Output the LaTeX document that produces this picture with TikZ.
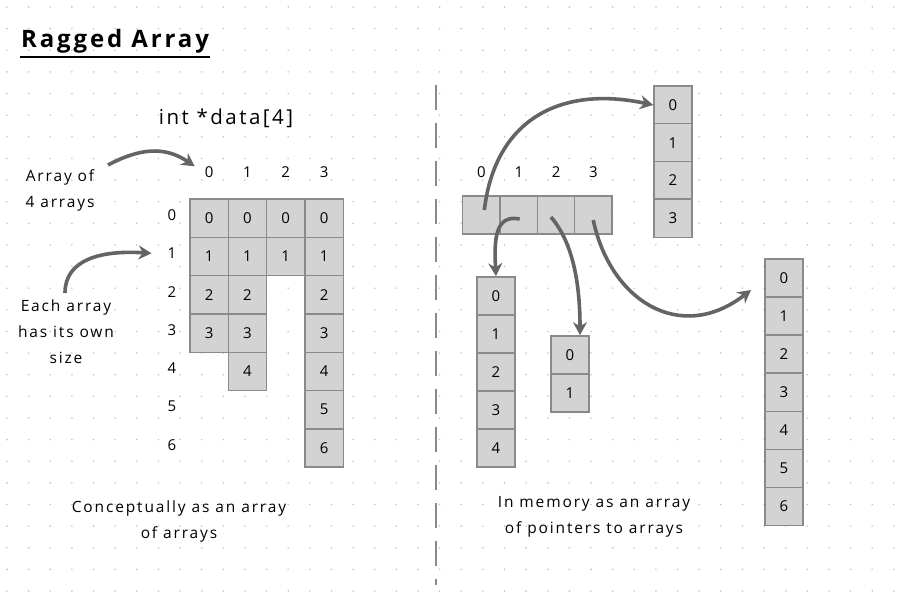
\documentclass[tikz,border=0pt]{standalone}
\usepackage{fontspec}
\setmainfont{Open Sans}[LetterSpace=12]
\usetikzlibrary{arrows.meta,calc}
\definecolor{cellfill}{HTML}{D3D3D3}
\definecolor{cellline}{HTML}{8A8A8A}
\definecolor{arrowgray}{HTML}{646464}
\definecolor{dotgray}{HTML}{C4C4C4}
\tikzset{
  cell/.style={draw=cellline, fill=cellfill, line width=1.4pt, minimum width=38.3pt, minimum height=38.3pt, inner sep=0pt, font=\fontsize{15}{17}\selectfont},
  pcell/.style={cell, minimum width=37.3pt},
  idx/.style={font=\fontsize{15}{17}\selectfont, inner sep=0pt},
  note/.style={font=\fontsize{15.5}{26}\selectfont, align=center, inner sep=0pt},
  ptr/.style={draw=arrowgray, line width=3.6pt, -{Stealth[length=13pt,width=14pt]}}
}
\begin{document}
\begin{tikzpicture}[x=1pt, y=-1pt]
\useasboundingbox (0,0) rectangle (898,597);
% dot grid
\foreach \i in {0,...,41}
  \foreach \j in {0,...,27}
    \fill [dotgray] (7+21.63*\i, 7+21.63*\j) circle (0.9);
% title
\node [font=\fontsize{24}{28}\selectfont\bfseries, inner sep=0pt] (title) at (115, 41) {Ragged Array};
\draw [line width=1.8pt] (20, 57) -- (210, 57);
% divider
\draw [cellline, line width=1.8pt, dash pattern=on 25pt off 13pt] (436, 85) -- (436, 585);
% left: conceptual view
\node [font=\fontsize{20.5}{22}\selectfont, inner sep=0pt] (decl) at (226, 118) {int *data[4]};
\foreach \c in {0,...,3}
  \node [idx] (col\c) at (209.15+38.3*\c, 172) {\c};
\foreach \r in {0,...,6}
  \node [idx] (row\r) at (172, 215+38.3*\r) {\r};
\foreach \c/\last in {0/3, 1/4, 2/1, 3/6}
  \foreach \r in {0,...,\last}
    \node [cell] (a\c\r) at (209.15+38.3*\c, 218.15+38.3*\r) {\r};
\node [note] (arrnote) at (60, 190) {Array of\\4 arrays};
\node [note] (sizenote) at (66, 332) {Each array\\has its own\\size};
\node [note] (leftcap) at (179, 521) {Conceptually as an array\\of arrays};
\draw [ptr] (108, 165) .. controls (140, 148) and (165, 146) .. ([xshift=-10pt]col0.north west);
\draw [ptr] (65, 293) .. controls (65, 260) and (100, 250) .. ([xshift=-16pt]row1.west);
% right: memory view
\foreach \c in {0,...,3} {
  \node [idx] (pidx\c) at (481.5+37.3*\c, 172) {\c};
  \node [pcell] (p\c) at (481.35+37.3*\c, 215) {};
}
\foreach \r in {0,...,3}
  \node [cell] (t\r) at (673, 105+37.7*\r) {\r};
\foreach \r in {0,...,4}
  \node [cell] (q\r) at (496, 296+38*\r) {\r};
\foreach \r in {0,...,1}
  \node [cell] (u\r) at (570, 355+38*\r) {\r};
\foreach \r in {0,...,6}
  \node [cell] (s\r) at (784, 278+38.1*\r) {\r};
\node [note] (rightcap) at (594, 517) {In memory as an array\\of pointers to arrays};
\coordinate (sin) at (751, 290);
\draw [ptr] ([shift={(3,-5)}]p0.center) .. controls (495, 120) and (560, 85) .. (t0.west);
\draw [ptr] ([shift={(1,4)}]p1.center) .. controls (495, 214) and (494, 240) .. (q0.north);
\draw [ptr] ([shift={(-5,2)}]p2.center) .. controls (575, 245) and (580, 290) .. ([xshift=10pt]u0.north);
\draw [ptr] ([shift={(0,5)}]p3.center) .. controls (610, 300) and (680, 345) .. (sin);
\end{tikzpicture}
\end{document}
